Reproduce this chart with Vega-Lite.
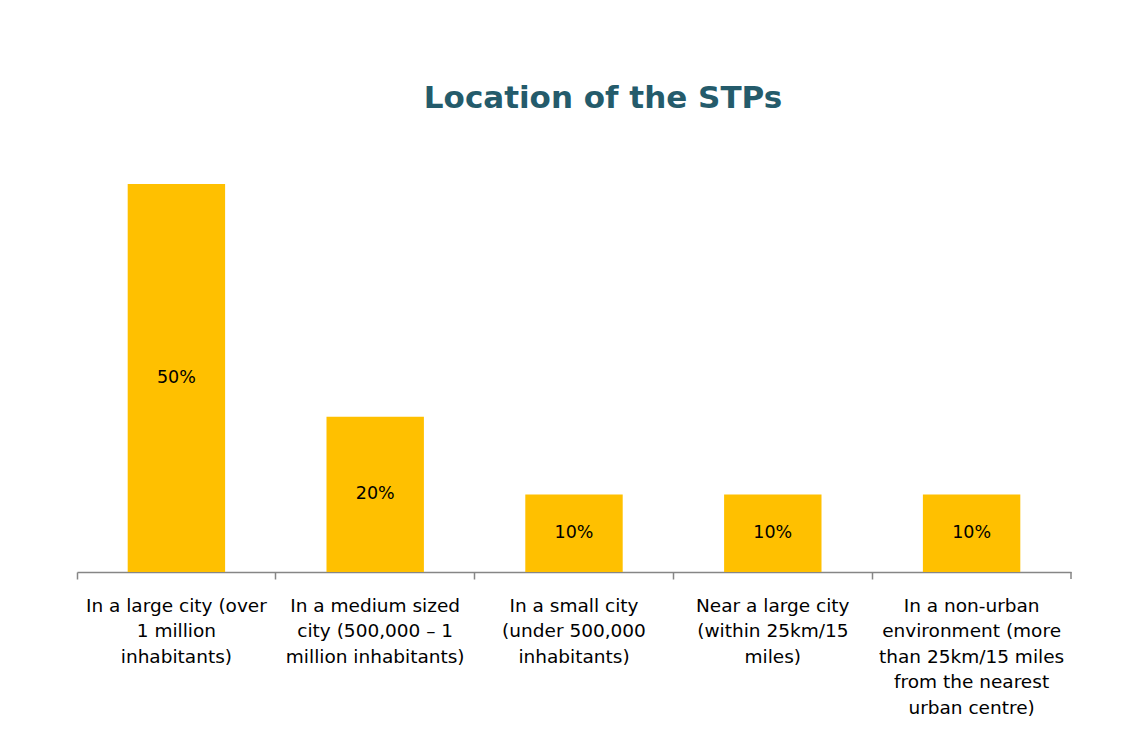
{
  "$schema": "https://vega.github.io/schema/vega-lite/v6.json",
  "width": 994,
  "height": 388,
  "autosize": {"type": "none"},
  "padding": {"left": 77, "top": 184, "right": 60, "bottom": 164},
  "background": "white",
  "title": {
    "text": "Location of the STPs",
    "font": "DejaVu Sans",
    "fontSize": 31,
    "fontWeight": "bold",
    "color": "#245B6B",
    "dx": 29,
    "offset": 69
  },
  "data": {
    "values": [
      {"cat": "In a large city (over|1 million|inhabitants)", "value": 50, "label": "50%"},
      {"cat": "In a medium sized|city (500,000 – 1|million inhabitants)", "value": 20, "label": "20%"},
      {"cat": "In a small city|(under 500,000|inhabitants)", "value": 10, "label": "10%"},
      {"cat": "Near a large city|(within 25km/15|miles)", "value": 10, "label": "10%"},
      {"cat": "In a non-urban|environment (more|than 25km/15 miles|from the nearest|urban centre)", "value": 10, "label": "10%"}
    ]
  },
  "config": {"view": {"stroke": null}},
  "encoding": {
    "x": {
      "field": "cat",
      "type": "nominal",
      "sort": null,
      "scale": {"paddingInner": 0, "paddingOuter": 0},
      "axis": {
        "title": null,
        "labelExpr": "split(datum.label, '|')",
        "labelAngle": 0,
        "labelFont": "DejaVu Sans",
        "labelFontSize": 18.5,
        "labelColor": "#000000",
        "labelLineHeight": 25.6,
        "labelPadding": 17,
        "labelLimit": 0,
        "labelOverlap": false,
        "labelBound": false,
        "labelFlush": false,
        "bandPosition": 0,
        "domainColor": "#868686",
        "domainWidth": 1.5,
        "tickColor": "#868686",
        "tickWidth": 1.5,
        "tickSize": 7
      }
    }
  },
  "layer": [
    {
      "mark": {"type": "bar", "color": "#FFC000", "width": {"band": 0.49}},
      "encoding": {
        "y": {"field": "value", "type": "quantitative", "scale": {"domain": [0, 50]}, "axis": null}
      }
    },
    {
      "transform": [{"calculate": "datum.value / 2", "as": "mid"}],
      "mark": {"type": "text", "font": "DejaVu Sans", "fontSize": 17.5, "color": "#000000", "baseline": "middle"},
      "encoding": {
        "y": {"field": "mid", "type": "quantitative"},
        "text": {"field": "label"}
      }
    },
    {
      "transform": [{"filter": "indexof(datum.cat, 'non-urban') >= 0"}],
      "mark": {"type": "rule", "color": "#868686", "strokeWidth": 1.5},
      "encoding": {
        "x": {"field": "cat", "type": "nominal", "sort": null, "bandPosition": 1},
        "y": {"datum": 0},
        "y2": {"datum": -0.9}
      }
    }
  ]
}
